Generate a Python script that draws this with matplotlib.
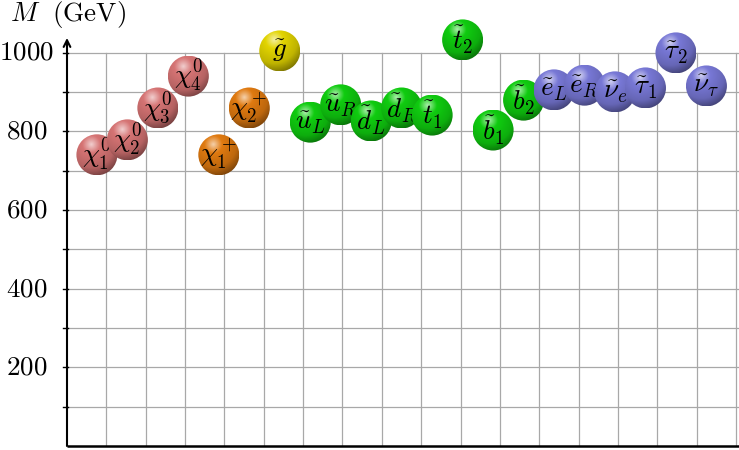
import numpy as np
import matplotlib
matplotlib.use('Agg')
import matplotlib.pyplot as plt
from matplotlib.patches import Ellipse
from matplotlib.colors import LinearSegmentedColormap, to_rgb

plt.rcParams['mathtext.fontset'] = 'cm'
plt.rcParams['font.family'] = 'serif'
plt.rcParams['font.serif'] = ['DejaVu Serif']

# particle labels and masses (GeV)
labels = [r'$\chi_1^0$', r'$\chi_2^0$', r'$\chi_3^0$', r'$\chi_4^0$',
          r'$\chi_1^+$', r'$\chi_2^+$', r'$\tilde{g}$',
          r'$\tilde{u}_L$', r'$\tilde{u}_R$', r'$\tilde{d}_L$', r'$\tilde{d}_R$',
          r'$\tilde{t}_1$', r'$\tilde{t}_2$', r'$\tilde{b}_1$', r'$\tilde{b}_2$',
          r'$\tilde{e}_L$', r'$\tilde{e}_R$', r'$\tilde{\nu}_e$', r'$\tilde{\tau}_1$',
          r'$\tilde{\tau}_2$', r'$\tilde{\nu}_\tau$']
masses = [740, 778, 859, 940,
          740, 859, 1004,
          823, 867, 826, 859,
          841, 1032, 803, 879,
          905, 917, 900, 910,
          999, 915]
groups = ['neutralino'] * 4 + ['chargino'] * 2 + ['gluino'] + ['squark'] * 8 + ['slepton'] * 6

group_colors = {
    'neutralino': '#d67474',
    'chargino': '#e07a10',
    'gluino': '#e2d400',
    'squark': '#10cc10',
    'slepton': '#7878d6',
}

yticks = [200, 400, 600, 800, 1000]

W, H = 739, 450
px_x = 39.35          # pixels per x unit
px_y = 0.3935         # pixels per GeV
x0_px, y0_px = 67, 446

fig = plt.figure(figsize=(W / 100, H / 100), dpi=100)
ax = fig.add_axes([x0_px / W, (H - y0_px) / H, (W - x0_px) / W, y0_px / H])
xmax = (W - x0_px) / px_x
ymax = y0_px / px_y
ax.set_xlim(0, xmax)
ax.set_ylim(0, ymax)
ax.axis('off')

# grid
grid_kw = dict(color='#a8a8a8', lw=0.9, zorder=1)
for gx in range(1, 18):
    ax.plot([gx, gx], [0, 1000], **grid_kw)
for gy in range(100, 1001, 100):
    ax.plot([0, xmax], [gy, gy], **grid_kw)

# axes
ax.plot([0, xmax], [0, 0], color='black', lw=1.8, zorder=3, clip_on=False, solid_capstyle='butt')
ax.annotate('', xy=(0, 1037), xytext=(0, 0),
            arrowprops=dict(arrowstyle='->', lw=1.5, color='black',
                            mutation_scale=12, shrinkA=0, shrinkB=0),
            zorder=3, annotation_clip=False)
for gy in range(100, 1001, 100):
    ax.plot([-4 / px_x, 0.6 / px_x], [gy, gy], color='black', lw=1.0, zorder=3, clip_on=False)
for t in yticks:
    ax.text(-40 / px_x, t, r'$%d$' % t, ha='center', va='center', fontsize=19.5, clip_on=False)

fig.text(10 / W, 1 - 15 / H, r'$M\ \ \mathrm{(GeV)}$', ha='left', va='center', fontsize=19.5)

# ball shading
n = 120
u = np.linspace(-1, 1, n)
U, V = np.meshgrid(u, u[::-1])
hx, hy = -0.25, 0.5
d = np.sqrt((U - hx) ** 2 + (V - hy) ** 2) / 1.75
d = np.clip(d, 0, 1)

r = 20.5 / px_x
ry = 20.5 / px_y
for i, (lab, m, g) in enumerate(zip(labels, masses, groups)):
    x = 0.76 + 0.7745 * i
    base = np.array(to_rgb(group_colors[g]))
    cmap = LinearSegmentedColormap.from_list(
        'ball', [(0, 0.35 * base + 0.65), (0.25, base), (0.65, 0.85 * base), (1, 0.45 * base)])
    img = cmap(d)
    z = 5 + 2 * i
    circ = Ellipse((x, m), 2 * r, 2 * ry, facecolor='none', edgecolor='none', zorder=z)
    ax.add_patch(circ)
    im = ax.imshow(img, extent=[x - r, x + r, m - ry, m + ry], zorder=z,
                   interpolation='bilinear', aspect='auto')
    im.set_clip_path(circ)
    ax.text(x, m, lab, ha='center', va='center', fontsize=19.5, zorder=z + 1)

ax.set_xlim(0, xmax)
ax.set_ylim(0, ymax)

fig.savefig('out.png', dpi=100)
